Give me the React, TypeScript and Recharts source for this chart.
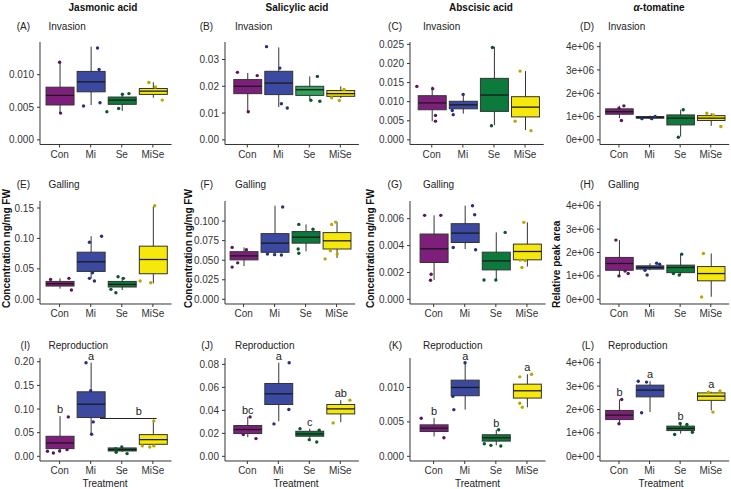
import { ComposedChart, Bar, Scatter, XAxis, YAxis, ReferenceLine } from 'recharts';

const treatments = ['Con', 'Mi', 'Se', 'MiSe'];
const compounds = ['Jasmonic acid', 'Salicylic acid', 'Abscisic acid', 'α-tomatine'];
const stages = ['Invasion', 'Galling', 'Reproduction'];
const tags = ['A', 'B', 'C', 'D', 'E', 'F', 'G', 'H', 'I', 'J', 'K', 'L'];
const yTitles = ['Concentration ng/mg FW', 'Concentration ng/mg FW', 'Concentration ng/mg FW', 'Relative peak area'];

// box stats per treatment: [lower whisker, q1, median, q3, upper whisker]
const boxA = [[0.0042, 0.00535, 0.00682, 0.00808, 0.0121], [0.00535, 0.00737, 0.0089, 0.0105, 0.0143], [0.00444, 0.00545, 0.0061, 0.00657, 0.00707], [0.00646, 0.00697, 0.00747, 0.00788, 0.00884]];
const boxB = [[0.0103, 0.01725, 0.02, 0.0225, 0.025], [0.01225, 0.0169, 0.0212, 0.0256, 0.0345], [0.015, 0.0166, 0.0187, 0.02, 0.0237], [0.0156, 0.01625, 0.01725, 0.0184, 0.02]];
const boxC = [[0.00488, 0.00788, 0.00967, 0.01156, 0.01396], [0.00685, 0.00813, 0.00916, 0.0101, 0.012], [0.00385, 0.00745, 0.01173, 0.0161, 0.0244], [0.00257, 0.006, 0.00856, 0.0113, 0.018]];
const boxD = [[0.93e6, 1.1e6, 1.21e6, 1.33e6, 1.46e6], [0.9e6, 0.93e6, 0.96e6, 1.0e6, 1.04e6], [0.14e6, 0.64e6, 0.93e6, 1.07e6, 1.29e6], [0.6e6, 0.83e6, 0.93e6, 1.04e6, 1.14e6]];
const boxE = [[0.0175, 0.0218, 0.0256, 0.0294, 0.0344], [0.0344, 0.0458, 0.0616, 0.0774, 0.1036], [0.0153, 0.0202, 0.0245, 0.0294, 0.0354], [0.0262, 0.042, 0.0654, 0.0873, 0.1527]];
const boxF = [[0.0424, 0.0504, 0.0555, 0.0609, 0.0664], [0.0571, 0.0601, 0.0718, 0.084, 0.1197], [0.0613, 0.0718, 0.0794, 0.0866, 0.0958], [0.0529, 0.0643, 0.0748, 0.0853, 0.0987]];
const boxG = [[0.00144, 0.00274, 0.00376, 0.00486, 0.00625], [0.00374, 0.00423, 0.00493, 0.00563, 0.00697], [0.00144, 0.00219, 0.00286, 0.00351, 0.00498], [0.00244, 0.00294, 0.00356, 0.00411, 0.00573]];
const boxH = [[1.0e6, 1.24e6, 1.53e6, 1.79e6, 2.53e6], [1.24e6, 1.29e6, 1.36e6, 1.43e6, 1.54e6], [1.04e6, 1.14e6, 1.36e6, 1.46e6, 1.93e6], [0.11e6, 0.79e6, 1.1e6, 1.4e6, 1.96e6]];
const boxI = [[0.0092, 0.01625, 0.0283, 0.0424, 0.0848], [0.0466, 0.082, 0.1102, 0.1364, 0.198], [0.0092, 0.0113, 0.0141, 0.0177, 0.0198], [0.0219, 0.0254, 0.0353, 0.0459, 0.0749]];
const boxJ = [[0.0166, 0.0198, 0.0233, 0.0268, 0.0343], [0.0305, 0.0451, 0.0544, 0.0634, 0.0815], [0.016, 0.0175, 0.0195, 0.0218, 0.0241], [0.0297, 0.0369, 0.0413, 0.0451, 0.0489]];
const boxK = [[0.00288, 0.0036, 0.00409, 0.00457, 0.00558], [0.00678, 0.0088, 0.01, 0.01106, 0.0136], [0.00159, 0.00221, 0.00269, 0.00313, 0.00385], [0.00712, 0.00846, 0.00952, 0.01048, 0.01192]];
const boxL = [[1.39e6, 1.57e6, 1.76e6, 1.96e6, 2.43e6], [1.89e6, 2.54e6, 2.83e6, 3.04e6, 3.21e6], [0.97e6, 1.1e6, 1.19e6, 1.29e6, 1.43e6], [1.96e6, 2.39e6, 2.57e6, 2.71e6, 2.76e6]];

// jittered points: [treatment index, jitter, value]
const ptsA = [[0, 0, 0.0119], [0, 0.03, 0.0041], [1, 0.22, 0.0141], [1, 0.27, 0.0108], [1, -0.23, 0.0052], [1, 0.3, 0.0057], [2, -0.48, 0.0043], [2, -0.1, 0.0048], [2, 0.02, 0.007], [2, 0.23, 0.0071], [3, -0.13, 0.0088], [3, 0.08, 0.0081], [3, 0.3, 0.0061]];
const ptsB = [[0, -0.32, 0.0252], [0, 0.32, 0.024], [0, 0.03, 0.0105], [1, -0.38, 0.0348], [1, 0.05, 0.0268], [1, 0.1, 0.0135], [1, 0.29, 0.0119], [2, 0.05, 0.0148], [2, 0.26, 0.0237], [2, 0.34, 0.0144], [3, -0.28, 0.0157], [3, -0.03, 0.0147], [3, 0.12, 0.0188]];
const ptsC = [[0, -0.48, 0.014], [0, 0.03, 0.0134], [0, 0.12, 0.0064], [0, 0.12, 0.0049], [1, 0.01, 0.0119], [1, -0.31, 0.0066], [1, -0.34, 0.0077], [2, -0.05, 0.0242], [2, -0.08, 0.0037], [3, -0.16, 0.018], [3, -0.32, 0.0049], [3, 0.19, 0.0024]];
const ptsD = [[0, 0.08, 0.83e6], [0, 0, 1.36e6], [0, 0.16, 1.46e6], [1, -0.25, 0.91e6], [1, 0.07, 0.91e6], [1, 0.18, 1.0e6], [2, 0.1, 1.29e6], [2, -0.06, 0.11e6], [3, -0.13, 1.14e6], [3, 0.33, 0.57e6], [3, 0.08, 1.07e6]];
const ptsE = [[0, -0.29, 0.0327], [0, 0.3, 0.0344], [0, 0.38, 0.0153], [1, -0.04, 0.0938], [1, 0.35, 0.1036], [1, -0.04, 0.0344], [1, 0.12, 0.03], [1, 0.06, 0.0436], [2, -0.12, 0.037], [2, 0.05, 0.0344], [2, -0.19, 0.0109], [2, -0.35, 0.0164], [3, 0.06, 0.1538], [3, -0.41, 0.03], [3, -0.07, 0.0273]];
const ptsF = [[0, -0.37, 0.0664], [0, 0.09, 0.0634], [0, -0.37, 0.0412], [0, -0.19, 0.0466], [1, 0.26, 0.118], [1, -0.23, 0.058], [1, 0, 0.0571], [1, 0.22, 0.0567], [2, -0.22, 0.0958], [2, 0.24, 0.0895], [2, -0.24, 0.0643], [2, -0.22, 0.0588], [3, -0.03, 0.0987], [3, -0.16, 0.0958], [3, -0.37, 0.0517], [3, -0.2, 0.0622], [3, 0.02, 0.058]];
const ptsG = [[0, -0.29, 0.00625], [0, 0.23, 0.00625], [0, -0.08, 0.00187], [0, -0.1, 0.00142], [1, -0.37, 0.00386], [1, 0.25, 0.00697], [1, 0.32, 0.0063], [1, 0.35, 0.00369], [2, -0.38, 0.00144], [2, 0, 0.00144], [2, 0.3, 0.00498], [3, -0.1, 0.00573], [3, -0.16, 0.00237], [3, -0.06, 0.00289], [3, -0.22, 0.00292]];
const ptsH = [[0, -0.1, 2.53e6], [0, 0, 1.0e6], [0, 0.3, 1.1e6], [0, 0.2, 1.21e6], [1, -0.08, 1.04e6], [1, 0.23, 1.54e6], [1, 0.33, 1.5e6], [1, -0.15, 1.24e6], [2, 0.05, 1.93e6], [2, -0.03, 1.04e6], [2, -0.22, 1.1e6], [3, -0.24, 1.96e6], [3, -0.3, 0.1e6]];
const ptsI = [[0, 0.28, 0.0834], [0, -0.39, 0.0106], [0, -0.2, 0.007], [0, 0, 0.0113], [0, 0.24, 0.0141], [1, -0.15, 0.198], [1, 0, 0.1385], [1, 0.08, 0.0728], [1, 0.03, 0.0466], [2, -0.2, 0.0163], [2, -0.18, 0.0085], [2, 0, 0.0198], [2, 0.17, 0.0057], [3, 0.03, 0.0749], [3, -0.34, 0.022], [3, -0.1, 0.0198], [3, 0.03, 0.022]];
const ptsJ = [[0, 0.09, 0.0343], [0, -0.13, 0.0189], [0, 0.28, 0.0154], [1, 0.35, 0.0815], [1, -0.14, 0.0282], [1, 0.34, 0.0407], [2, -0.3, 0.0241], [2, 0, 0.0145], [2, 0.24, 0.0125], [2, 0.32, 0.0227], [3, 0.31, 0.0489], [3, -0.23, 0.0291]];
const ptsK = [[0, -0.4, 0.00553], [0, 0.33, 0.00269], [1, 0.01, 0.0136], [1, -0.35, 0.00678], [1, -0.38, 0.0087], [2, 0.09, 0.00385], [2, -0.16, 0.00159], [2, 0.16, 0.0015], [2, -0.37, 0.00183], [3, 0.15, 0.01192], [3, -0.23, 0.01154], [3, -0.23, 0.0077], [3, -0.15, 0.00712]];
const ptsL = [[0, 0.09, 2.43e6], [0, 0, 1.39e6], [1, -0.37, 3.21e6], [1, -0.1, 3.17e6], [1, -0.26, 1.86e6], [2, -0.18, 0.93e6], [2, 0, 1.4e6], [2, 0.22, 1.36e6], [2, 0.4, 1.03e6], [3, 0.07, 1.89e6], [3, 0.3, 2.79e6], [3, -0.08, 2.74e6]];

const ticks3 = [0, 0.005, 0.01];
const ticksB = [0, 0.01, 0.02, 0.03];
const ticksC = [0, 0.005, 0.01, 0.015, 0.02, 0.025];
const ticksSci = [0, 1e6, 2e6, 3e6, 4e6];
const ticksE = [0, 0.05, 0.1, 0.15];
const ticksF = [0, 0.025, 0.05, 0.075, 0.1];
const ticksG = [0, 0.002, 0.004, 0.006];
const ticksI = [0, 0.05, 0.1, 0.15, 0.2];
const ticksJ = [0, 0.02, 0.04, 0.06, 0.08];

const lettersI = ['b', 'a', '', ''];
const lettersJ = ['bc', 'a', 'c', 'ab'];
const lettersK = ['b', 'a', 'b', 'a'];
const lettersL = ['b', 'a', 'b', 'a'];
// shared letter over Se and MiSe in (I): [from, to, y, letter x]
const bracketI = [2.3, 4.12, 0.08, 3.55];

const fills = ['#7f1f7c', '#3b4aa0', '#0b7a3a', '#f5e80a'];
const fillsB = ['#7f1f7c', '#3b4aa0', '#2fa45c', '#f5e80a'];
const dotFills = ['#5c1459', '#26317e', '#07572a', '#b5a800'];

const panels = [
  { box: boxA, pts: ptsA, ticks: ticks3, dec: 3 },
  { box: boxB, pts: ptsB, ticks: ticksB, dec: 2, fills: fillsB },
  { box: boxC, pts: ptsC, ticks: ticksC, dec: 3 },
  { box: boxD, pts: ptsD, ticks: ticksSci, dec: -1 },
  { box: boxE, pts: ptsE, ticks: ticksE, dec: 2 },
  { box: boxF, pts: ptsF, ticks: ticksF, dec: 3 },
  { box: boxG, pts: ptsG, ticks: ticksG, dec: 3 },
  { box: boxH, pts: ptsH, ticks: ticksSci, dec: -1 },
  { box: boxI, pts: ptsI, ticks: ticksI, dec: 2, letters: lettersI, bracket: bracketI },
  { box: boxJ, pts: ptsJ, ticks: ticksJ, dec: 2, letters: lettersJ },
  { box: boxK, pts: ptsK, ticks: ticks3, dec: 3, letters: lettersK },
  { box: boxL, pts: ptsL, ticks: ticksSci, dec: -1, letters: lettersL },
];

// layout
const colLeft = [39.5, 225, 410, 600];
const colUnit = [31.1, 31, 31.1, 30.6];
const xStart = [0.37, 0.28, 0.3, 0.38, 0.37, 0.4, 0.24, 0.38, 0.37, 0.28, 0.24, 0.38];
const rowTop = [42, 201, 357.5];
const rowBottom = [144.5, 304, 460.5];
const titleX = [103, 297, 481, 659];
const tagX = [30, 213, 402, 594];
const stageX = [48.5, 235, 423, 608];
const rowLabelY = [29.5, 187.5, 348.5];
const yTitleX = [10, 191.5, 373.5, 560];
const treatX = [105, 296, 477.5, 661];

const FONT = '"Liberation Sans", Arial, sans-serif';
const INK = '#333';

const fmt = (v: number, dec: number) => (dec < 0 ? (v === 0 ? '0e+00' : `${Math.round(v / 1e6)}e+06`) : v.toFixed(dec));

function BoxShape(props: any) {
  const { x, y, width, height, payload, fill } = props;
  if (!payload) return null;
  const top = Math.min(y, y + height);
  const h = Math.abs(height);
  const k = h / (payload.hi - payload.lo);
  const py = (v: number) => top + (payload.hi - v) * k;
  const cx = x + width / 2;
  return (
    <g>
      <line x1={cx} x2={cx} y1={py(payload.hi)} y2={py(payload.lo)} stroke={INK} strokeWidth={1} />
      <rect x={x} y={py(payload.q3)} width={width} height={py(payload.q1) - py(payload.q3)} fill={fill} stroke={INK} strokeWidth={1} />
      <line x1={x} x2={x + width} y1={py(payload.med)} y2={py(payload.med)} stroke="#1a1a1a" strokeWidth={1.3} />
      {payload.letter ? (
        <text x={cx} y={py(payload.top) - 3} textAnchor="middle" fontSize={11} fill="#222" fontFamily={FONT}>{payload.letter}</text>
      ) : null}
    </g>
  );
}

function Panel({ i }: { i: number }) {
  const p: any = panels[i];
  const col = i % 4;
  const row = Math.floor(i / 4);
  const u = colUnit[col];
  const xLo = xStart[i];
  const xHi = 4.6;
  const W = (xHi - xLo) * u;
  const H = rowBottom[row] - rowTop[row];
  const sci = p.dec < 0;
  const hiAll = sci ? 4e6 : Math.max(...p.box.map((b: number[]) => b[4]), ...p.pts.map((q: number[]) => q[2]));
  const domain = [-0.05 * hiAll, 1.05 * hiAll];
  const fillSet = p.fills ?? fills;
  const data = treatments.map((name, g) => {
    const [lo, q1, med, q3, hi] = p.box[g];
    const top = Math.max(hi, ...p.pts.filter((q: number[]) => q[0] === g).map((q: number[]) => q[2]));
    return { name, lo, q1, med, q3, hi, top, g, fill: fillSet[g], letter: p.letters ? p.letters[g] : '' };
  });
  const dots = p.pts.map(([g, j, v]: number[]) => ({ x: g + 1 + j, y: v, g }));
  const axisTick = { fontSize: 10, fill: INK, fontFamily: FONT };
  return (
    <div style={{ position: 'absolute', left: colLeft[col] - 50, top: rowTop[row] - 20 }}>
      <ComposedChart width={W + 60} height={H + 50} data={data} margin={{ top: 20, right: 10, bottom: 0, left: 0 }}>
        <XAxis
          xAxisId="cat"
          dataKey="name"
          type="category"
          interval={0}
          padding={{ left: (0.5 - xLo) * u, right: (xHi - 4.5) * u }}
          height={30}
          tickSize={3}
          tickMargin={3}
          tick={axisTick}
          axisLine={{ stroke: INK }}
          tickLine={{ stroke: INK }}
        />
        <XAxis xAxisId="pts" dataKey="x" type="number" domain={[xLo, xHi]} hide />
        <YAxis
          type="number"
          domain={domain}
          ticks={p.ticks}
          interval={0}
          width={50}
          tickSize={3}
          tickMargin={3}
          tickFormatter={(v: number) => fmt(v, p.dec)}
          tick={axisTick}
          axisLine={{ stroke: INK }}
          tickLine={{ stroke: INK }}
        />
        <Scatter
          xAxisId="pts"
          data={dots}
          dataKey="y"
          isAnimationActive={false}
          shape={(s: any) => <circle cx={s.cx} cy={s.cy} r={1.7} fill={dotFills[s.payload.g]} />}
        />
        <Bar
          xAxisId="cat"
          dataKey={(d: any) => [d.lo, d.hi]}
          barSize={0.9 * u}
          isAnimationActive={false}
          shape={(s: any) => <BoxShape {...s} fill={s.payload?.fill} />}
        />
        {p.bracket ? (
          <ReferenceLine
            xAxisId="pts"
            segment={[{ x: p.bracket[0], y: p.bracket[2] }, { x: p.bracket[1], y: p.bracket[2] }]}
            stroke="#222"
            strokeWidth={1}
          />
        ) : null}
        {p.bracket ? (
          <Scatter
            xAxisId="pts"
            data={[{ x: p.bracket[3], y: p.bracket[2] }]}
            dataKey="y"
            isAnimationActive={false}
            shape={(s: any) => (
              <text x={s.cx} y={s.cy - 3} textAnchor="middle" fontSize={11} fill="#222" fontFamily={FONT}>b</text>
            )}
          />
        ) : null}
      </ComposedChart>
    </div>
  );
}

export default function App() {
  return (
    <div style={{ position: 'absolute', left: 0, top: 0, width: 731, height: 489, background: '#fff', fontFamily: FONT, overflow: 'hidden' }}>
      <svg width={731} height={489} style={{ position: 'absolute', left: 0, top: 0 }} fontFamily={FONT}>
        {compounds.map((c, k) => (
          <text key={c} x={titleX[k]} y={11} textAnchor="middle" fontSize={10} fontWeight="bold" fill="#111">
            {c.startsWith('α') ? (<><tspan fontStyle="italic">α</tspan>{c.slice(1)}</>) : c}
          </text>
        ))}
        {tags.map((t, k) => (
          <g key={t}>
            <text x={tagX[k % 4]} y={rowLabelY[Math.floor(k / 4)]} textAnchor="end" fontSize={10} fill="#222">({t})</text>
            <text x={stageX[k % 4]} y={rowLabelY[Math.floor(k / 4)]} fontSize={10} fill="#222">{stages[Math.floor(k / 4)]}</text>
          </g>
        ))}
        {yTitles.map((t, k) => (
          <text key={k} transform={`translate(${yTitleX[k]},308) rotate(-90)`} fontSize={10} fontWeight="bold" fill="#111">{t}</text>
        ))}
        {treatX.map((x, k) => (
          <text key={k} x={x} y={486.5} textAnchor="middle" fontSize={10} fill="#222">Treatment</text>
        ))}
      </svg>
      {panels.map((_, k) => (
        <Panel key={k} i={k} />
      ))}
    </div>
  );
}
